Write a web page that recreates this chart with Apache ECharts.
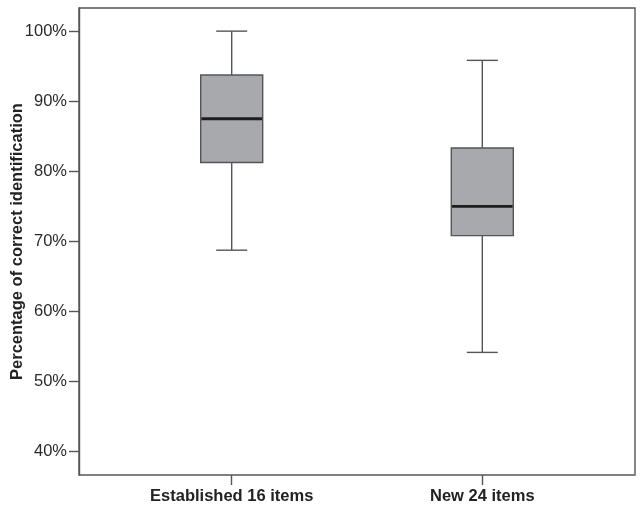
<!DOCTYPE html>
<html>
<head>
<meta charset="utf-8">
<script src="https://cdn.jsdelivr.net/npm/echarts@6/dist/echarts.min.js"></script>
<style>
  html,body{margin:0;padding:0;background:#fff;}
  #main{width:643px;height:510px;}
</style>
</head>
<body>
<div id="main"></div>
<script>
// box stats in percent
var categories = ["Established 16 items", "New 24 items"];
var mins    = [68.75, 54.17];
var q1s     = [81.25, 70.83];
var medians = [87.5, 75];
var q3s     = [93.75, 83.33];
var maxs    = [100, 95.83];
var yTicks  = [40, 50, 60, 70, 80, 90, 100];

var Y_MIN = 36.68, Y_MAX = 103.3;
var FONT = "'Liberation Sans', Arial, Helvetica, sans-serif";
var LINE = "#555";

var boxData = categories.map(function(c, i){
  return [i, mins[i], q1s[i], medians[i], q3s[i], maxs[i]];
});

function renderBox(params, api){
  var x = api.value(0);
  var pMin = api.coord([x, api.value(1)]);
  var pQ1  = api.coord([x, api.value(2)]);
  var pMed = api.coord([x, api.value(3)]);
  var pQ3  = api.coord([x, api.value(4)]);
  var pMax = api.coord([x, api.value(5)]);
  var cx = pMed[0];
  var half = 31, cap = 15.5;
  var ls = {stroke:LINE, lineWidth:1.4};
  return {
    type:"group",
    children:[
      {type:"line", shape:{x1:cx, y1:pMax[1], x2:cx, y2:pQ3[1]}, style:ls},
      {type:"line", shape:{x1:cx, y1:pQ1[1], x2:cx, y2:pMin[1]}, style:ls},
      {type:"line", shape:{x1:cx-cap, y1:pMax[1], x2:cx+cap, y2:pMax[1]}, style:ls},
      {type:"line", shape:{x1:cx-cap, y1:pMin[1], x2:cx+cap, y2:pMin[1]}, style:ls},
      {type:"rect", shape:{x:cx-half, y:pQ3[1], width:half*2, height:pQ1[1]-pQ3[1]},
        style:{fill:"#a7a9ac", stroke:LINE, lineWidth:1.4}},
      {type:"line", shape:{x1:cx-half+0.7, y1:pMed[1], x2:cx+half-0.7, y2:pMed[1]},
        style:{stroke:"#1e1e1e", lineWidth:2.8}}
    ]
  };
}

var ch = echarts.init(document.getElementById("main"), null, {renderer:"canvas"});
ch.setOption({
  animation:false,
  backgroundColor:"#fff",
  grid:[
    // frame + y axis
    { left:79, right:8, top:8, bottom:35, show:true, borderColor:LINE, borderWidth:1.4,
      backgroundColor:"transparent", outerBoundsMode:"none", containLabel:false },
    // box placement
    { left:106.4, right:35.4, top:8, bottom:35, outerBoundsMode:"none", containLabel:false }
  ],
  xAxis:[
    { gridIndex:0, type:"category", data:[""], show:false },
    { gridIndex:1, type:"category", data:categories, boundaryGap:true,
      axisLine:{show:false},
      axisTick:{show:true, alignWithLabel:true, length:10, lineStyle:{color:LINE, width:1.4}},
      axisLabel:{color:"#222", fontSize:16.5, fontWeight:"bold", fontFamily:FONT, margin:13},
      splitLine:{show:false} }
  ],
  yAxis:[
    { gridIndex:0, type:"value", min:Y_MIN, max:Y_MAX,
      name:"Percentage of correct identification", nameLocation:"middle", nameGap:53,
      nameMoveOverlap:false,
      nameTextStyle:{color:"#222", fontSize:16.5, fontWeight:"bold", fontFamily:FONT},
      axisLine:{show:true, lineStyle:{color:LINE, width:1.4}},
      axisTick:{show:true, length:10, customValues:yTicks, lineStyle:{color:LINE, width:1.4}},
      axisLabel:{color:"#2a2a2a", fontSize:16.5, fontFamily:FONT, margin:12, customValues:yTicks,
        formatter:function(v){ return Math.round(v)+"%"; }},
      splitLine:{show:false} },
    { gridIndex:1, type:"value", min:Y_MIN, max:Y_MAX, show:false, splitLine:{show:false} }
  ],
  series:[
    { type:"custom", xAxisIndex:1, yAxisIndex:1, data:boxData,
      renderItem:renderBox, encode:{x:0, y:[1,2,3,4,5]}, clip:false,
      emphasis:{disabled:true} }
  ]
});
</script>
</body>
</html>
